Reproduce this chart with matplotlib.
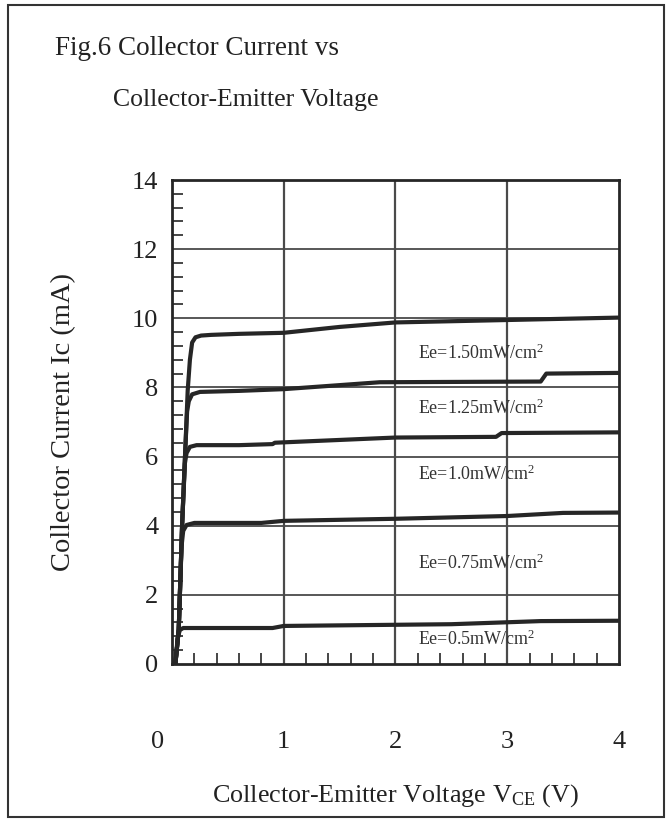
import matplotlib
matplotlib.use("Agg")
import matplotlib.pyplot as plt
import matplotlib.transforms as mtransforms
from matplotlib.patches import Rectangle
from matplotlib.ticker import MultipleLocator

plt.rcParams["font.family"] = ["Liberation Serif", "DejaVu Serif"]
plt.rcParams["mathtext.fontset"] = "custom"
plt.rcParams["mathtext.rm"] = "Liberation Serif"
plt.rcParams["mathtext.it"] = "Liberation Serif:italic"

# Output characteristics: collector current (mA) vs collector-emitter voltage (V)
irradiance_labels = [
    r"Ee=1.50mW/cm$^2$",
    r"Ee=1.25mW/cm$^2$",
    r"Ee=1.0mW/cm$^2$",
    r"Ee=0.75mW/cm$^2$",
    r"Ee=0.5mW/cm$^2$",
]

vce_150 = [0.03, 0.06, 0.09, 0.12, 0.14, 0.16, 0.18, 0.21, 0.26, 0.35, 0.6, 1.0, 1.5, 2.0, 3.0, 4.0]
ic_150 = [0.0, 1.0, 4.0, 6.3, 7.9, 8.8, 9.3, 9.45, 9.5, 9.52, 9.55, 9.58, 9.75, 9.88, 9.95, 10.02]

vce_125 = [0.03, 0.06, 0.09, 0.12, 0.135, 0.15, 0.18, 0.25, 0.6, 1.0, 1.86, 3.3, 3.35, 4.0]
ic_125 = [0.0, 1.0, 4.0, 6.3, 7.3, 7.6, 7.8, 7.87, 7.9, 7.95, 8.15, 8.17, 8.4, 8.42]

vce_100 = [0.03, 0.06, 0.09, 0.115, 0.13, 0.16, 0.22, 0.6, 0.9, 0.92, 2.0, 2.9, 2.95, 4.0]
ic_100 = [0.0, 1.0, 4.0, 5.8, 6.1, 6.28, 6.33, 6.33, 6.36, 6.4, 6.55, 6.57, 6.68, 6.7]

vce_075 = [0.03, 0.06, 0.085, 0.1, 0.13, 0.2, 0.8, 1.0, 2.0, 3.0, 3.5, 4.0]
ic_075 = [0.0, 1.0, 3.4, 3.85, 4.02, 4.08, 4.08, 4.14, 4.2, 4.28, 4.37, 4.38]

vce_050 = [0.03, 0.05, 0.07, 0.1, 0.9, 1.0, 2.5, 3.3, 4.0]
ic_050 = [0.0, 0.75, 0.98, 1.04, 1.04, 1.1, 1.15, 1.24, 1.25]

label_x = [2.2, 2.2, 2.2, 2.2, 2.2]
label_y = [9.0, 7.4, 5.5, 2.9, 0.7]

x_ticks = [0, 1, 2, 3, 4]
y_ticks = [0, 2, 4, 6, 8, 10, 12, 14]

fig = plt.figure(figsize=(6.72, 8.19), dpi=100)
fig.patch.set_facecolor("white")
ax = fig.add_axes([0.256, 0.1893, 0.665, 0.5909])

ink = "#262626"
grid_ink = "#4a4a4a"

for y in y_ticks[1:-1]:
    ax.axhline(y, color=grid_ink, lw=1.3, zorder=1)
for x in x_ticks[1:-1]:
    ax.axvline(x, color=grid_ink, lw=1.6, zorder=1)

curves = [
    (vce_150, ic_150),
    (vce_125, ic_125),
    (vce_100, ic_100),
    (vce_075, ic_075),
    (vce_050, ic_050),
]
for (v, i) in curves:
    ax.plot(v, i, color=ink, lw=3.0, solid_capstyle="butt", zorder=3)

for txt, lx, ly in zip(irradiance_labels, label_x, label_y):
    ax.text(lx, ly, txt, fontsize=13, color="#333333", ha="left", va="center", zorder=4)

ax.set_xlim(0, 4)
ax.set_ylim(0, 14)
ax.set_xticks(x_ticks)
ax.set_yticks(y_ticks)
ax.set_xticklabels([str(t) for t in x_ticks])
ax.set_yticklabels([str(t) for t in y_ticks])
ax.xaxis.set_minor_locator(MultipleLocator(0.2))
ax.yaxis.set_minor_locator(MultipleLocator(0.4))
ax.tick_params(axis="x", which="major", length=0, pad=48, labelsize=19, colors="#222222")
ax.tick_params(axis="y", which="major", length=0, pad=10, labelsize=19, colors="#222222")
ax.tick_params(which="minor", direction="in", length=8, width=1.2, color=ink)

for sp in ax.spines.values():
    sp.set_linewidth(2.0)
    sp.set_color(ink)

# nudge the origin label on the x axis slightly to the left
shift = mtransforms.ScaledTranslation(-14 / 100, 0, fig.dpi_scale_trans)
first = ax.get_xticklabels()[0]
first.set_transform(first.get_transform() + shift)

fig.text(0.082, 0.941, "Fig.6 Collector Current vs", fontsize=19.5, ha="left", va="center", color="#222222")
fig.text(0.168, 0.878, "Collector-Emitter Voltage", fontsize=18.5, ha="left", va="center", color="#222222")
fig.text(0.094, 0.485, "Collector Current Ic (mA)", fontsize=20.5, rotation=90,
         ha="center", va="center", color="#222222")
fig.text(0.588, 0.029, r"Collector-Emitter Voltage V$_{\rm CE}$ (V)", fontsize=18.8,
         ha="center", va="center", color="#222222")

fig.patches.append(Rectangle((8 / 672, 1 - 817 / 819), (664 - 8) / 672, (817 - 5) / 819,
                             transform=fig.transFigure, fill=False, lw=1.5,
                             edgecolor="#333333", zorder=0))

fig.savefig("out.png", dpi=100, facecolor="white")
